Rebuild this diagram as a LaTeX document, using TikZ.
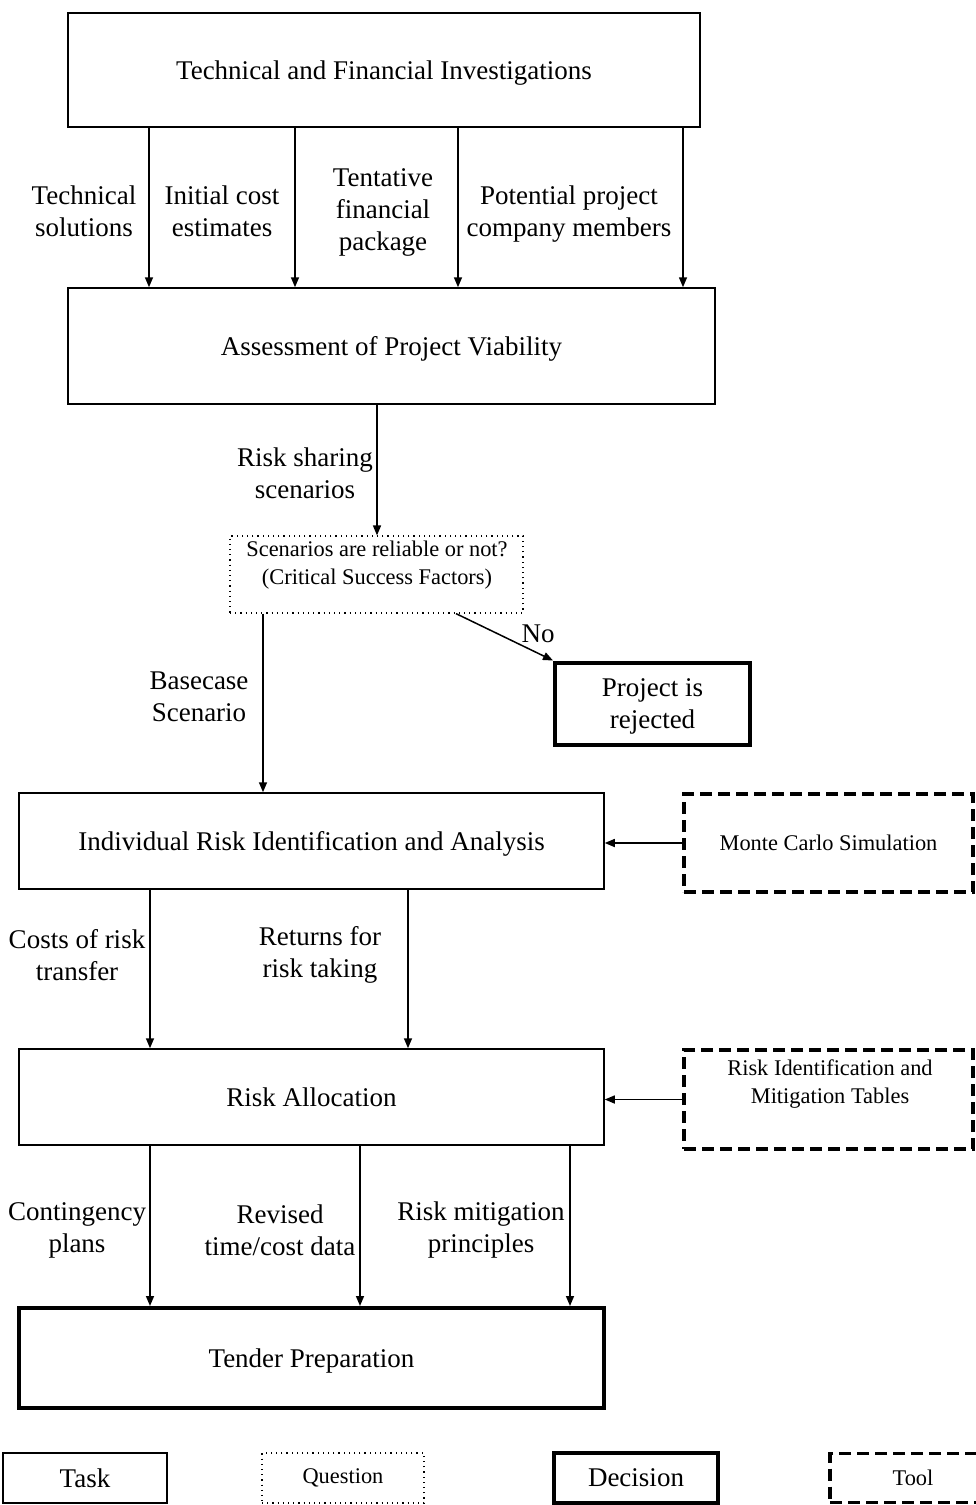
\documentclass[tikz,border=0pt]{standalone}
\usepackage{fontspec}
\setmainfont{Liberation Serif}
\usetikzlibrary{arrows.meta,calc}
\newcommand{\mainsize}{\fontsize{13.5}{16}\selectfont}
\newcommand{\smallsize}{\fontsize{11.2}{14}\selectfont}
\tikzset{
  task/.style     = {rectangle, draw, line width=0.75pt, align=center, inner sep=0pt, text depth=0pt,
                     font=\mainsize},
  question/.style = {rectangle, draw, dotted, line width=0.6pt, align=center, inner sep=0pt, font=\smallsize},
  decision/.style = {rectangle, draw, line width=2pt, align=center, inner sep=0pt, text depth=0pt,
                     font=\mainsize},
  tool/.style     = {rectangle, draw, line width=1.6pt, dash pattern=on 6pt off 3pt, align=center,
                     inner sep=0pt, font=\smallsize},
  boxtext/.style  = {align=center, inner sep=0pt, font=\smallsize},
  lbl/.style      = {align=center, inner sep=0pt, font=\mainsize},
  flow/.style     = {-{Triangle[length=5pt,width=4pt]}, line width=0.75pt},
}

\begin{document}
\begin{tikzpicture}[x=0.5pt, y=-0.5pt]
  \useasboundingbox (0,0) rectangle (975,1505);

  % boxes of the flow
  \node[task, minimum width=316pt, minimum height=57pt] (tfi) at (384,70)
    {Technical and Financial Investigations};
  \node[task, minimum width=323.5pt, minimum height=58pt] (apv) at (391.5,346)
    {Assessment of Project Viability};
  \node[question, minimum width=146.5pt, minimum height=38.5pt] (crit) at (376.5,574.5) {};
  \node[boxtext] (crittxt) at (377,565)
    {Scenarios are reliable or not?\\(Critical Success Factors)};
  \node[decision, minimum width=97.5pt, minimum height=41pt] (rej) at (652.5,703.5)
    {Project is\\rejected};
  \node[task, minimum width=292.5pt, minimum height=48pt] (ira) at (311.5,841)
    {Individual Risk Identification and Analysis};
  \node[tool, minimum width=144.5pt, minimum height=49pt] (mcs) at (828.5,843)
    {Monte Carlo Simulation};
  \node[task, minimum width=292.5pt, minimum height=48pt] (ral) at (311.5,1097)
    {Risk Allocation};
  \node[tool, minimum width=144.5pt, minimum height=49.5pt] (rimt) at (828.5,1099.5) {};
  \node[boxtext] (rimttxt) at (830,1084)
    {Risk Identification and\\Mitigation Tables};
  \node[decision, minimum width=292.5pt, minimum height=50pt] (tp) at (311.5,1358)
    {Tender Preparation};

  % connectors
  \foreach \x in {149,295,458,683}
    \draw[flow] (tfi.south -| \x,0) -- (apv.north -| \x,0);
  \draw[flow] (apv.south -| 377,0) -- (crit.north -| 377,0);
  \draw[flow] (crit.south -| 456,0) -- (rej.north west);
  \draw[flow] (crit.south -| 263,0) -- (ira.north -| 263,0);
  \draw[flow] (mcs.west) -- (mcs.west -| ira.east);
  \foreach \x in {150,408}
    \draw[flow] (ira.south -| \x,0) -- (ral.north -| \x,0);
  \draw[flow] (rimt.west) -- (rimt.west -| ral.east);
  \foreach \x in {150,360,570}
    \draw[flow] (ral.south -| \x,0) -- (tp.north -| \x,0);

  % connector labels
  \node[lbl] (l-tech) at (84,211)   {Technical\\solutions};
  \node[lbl] (l-cost) at (222,211)  {Initial cost\\estimates};
  \node[lbl] (l-fin)  at (383,212)  {Tentative\\financial\\package};
  \node[lbl] (l-mem)  at (569,214)  {Potential project\\company members};
  \node[lbl] (l-risk) at (305,473)  {Risk sharing\\scenarios};
  \node[lbl] (l-no)   at (538,634)  {No};
  \node[lbl] (l-base) at (199,697)  {Basecase\\Scenario};
  \node[lbl] (l-tran) at (77,955)   {Costs of risk\\transfer};
  \node[lbl] (l-ret)  at (320,955)  {Returns for\\risk taking};
  \node[lbl] (l-cont) at (77,1230)  {Contingency\\plans};
  \node[lbl] (l-rev)  at (280,1230) {Revised\\time/cost data};
  \node[lbl] (l-mit)  at (481,1230) {Risk mitigation\\principles};

  % legend
  \node[task, minimum width=82pt, minimum height=25pt] (k-task) at (85,1478) {Task};
  \node[question, minimum width=81pt, minimum height=25pt] (k-quest) at (343,1478) {Question};
  \node[decision, minimum width=82pt, minimum height=25pt] (k-dec) at (636,1478) {Decision};
  \node[tool, minimum width=83pt, minimum height=24.5pt] (k-tool) at (913,1478) {Tool};
\end{tikzpicture}
\end{document}
